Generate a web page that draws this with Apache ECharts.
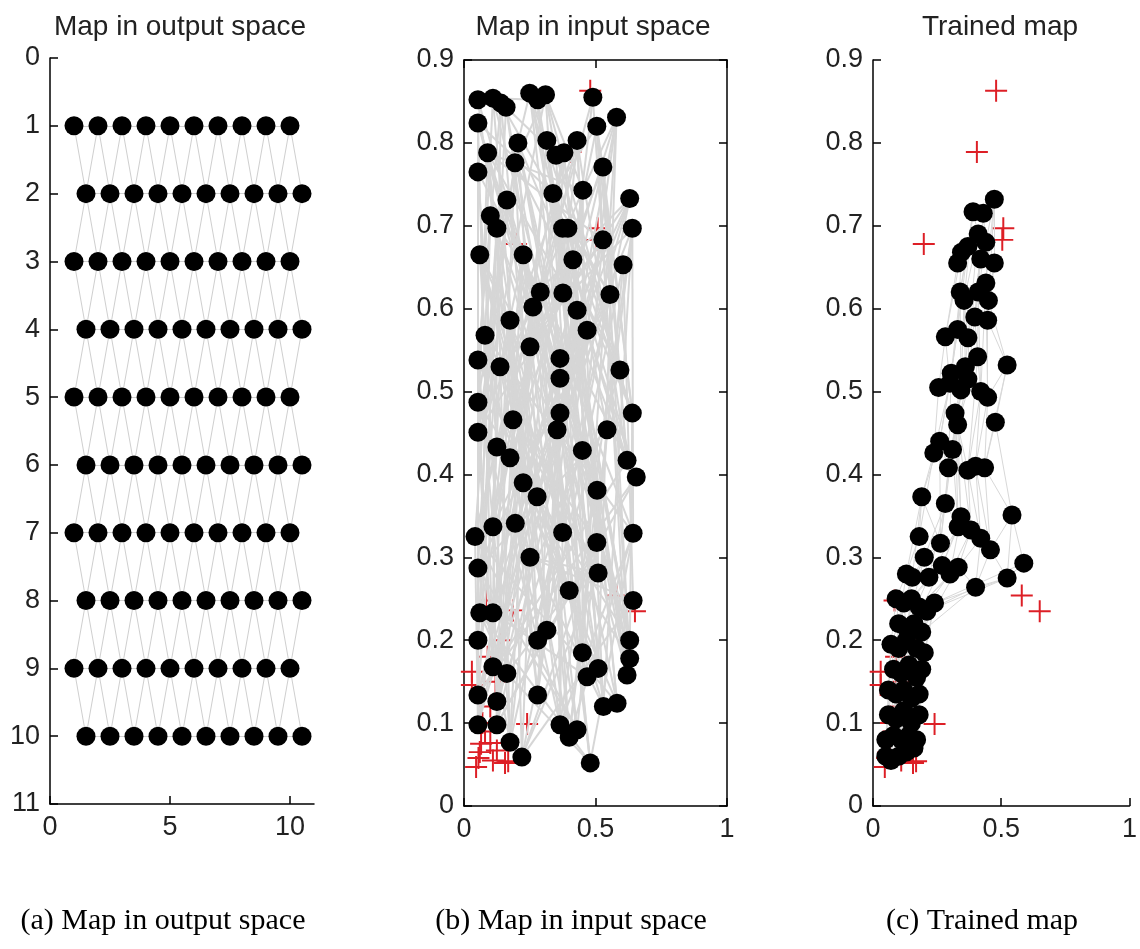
<!DOCTYPE html>
<html>
<head>
<meta charset="utf-8">
<script src="https://cdn.jsdelivr.net/npm/echarts@6/dist/echarts.min.js"></script>
<style>
  html, body { margin: 0; padding: 0; background: #fff; }
  #chart { width: 1140px; height: 949px; }
</style>
</head>
<body>
<div id="chart"></div>
<script>
// ---- Self-organising map, 10 x 10 hexagonal lattice ----

// Lattice rows and the column positions of odd / even (shifted) rows
const outputRows = [1, 2, 3, 4, 5, 6, 7, 8, 9, 10];
const oddRowX = [1, 2, 3, 4, 5, 6, 7, 8, 9, 10];
const evenRowX = [1.5, 2.5, 3.5, 4.5, 5.5, 6.5, 7.5, 8.5, 9.5, 10.5];

// Neuron weights before training (listed in lattice order, row by row)
const inputMapNeurons = [
  [0.053, 0.852], [0.315, 0.212], [0.365, 0.54], [0.28, 0.852], [0.11, 0.854],
  [0.28, 0.2], [0.593, 0.526], [0.35, 0.785], [0.16, 0.843], [0.053, 0.2],
  [0.365, 0.516], [0.205, 0.80], [0.25, 0.86], [0.63, 0.2], [0.053, 0.487],
  [0.194, 0.776], [0.31, 0.858], [0.45, 0.185], [0.365, 0.474], [0.163, 0.731],
  [0.49, 0.855], [0.63, 0.178], [0.64, 0.474], [0.338, 0.739], [0.053, 0.824],
  [0.11, 0.168], [0.053, 0.451], [0.452, 0.743], [0.58, 0.831], [0.51, 0.166],
  [0.125, 0.433], [0.528, 0.771], [0.505, 0.82], [0.62, 0.158], [0.45, 0.429],
  [0.528, 0.683], [0.09, 0.788], [0.28, 0.134], [0.175, 0.42], [0.414, 0.659],
  [0.053, 0.765], [0.053, 0.134], [0.62, 0.417], [0.376, 0.619], [0.315, 0.803],
  [0.125, 0.126], [0.225, 0.39], [0.43, 0.598], [0.38, 0.788], [0.582, 0.124],
  [0.655, 0.397], [0.468, 0.574], [0.43, 0.803], [0.53, 0.12], [0.195, 0.341],
  [0.175, 0.586], [0.63, 0.733], [0.053, 0.098], [0.042, 0.325], [0.262, 0.602],
  [0.375, 0.697], [0.125, 0.098], [0.11, 0.337], [0.137, 0.53], [0.64, 0.697],
  [0.365, 0.098], [0.375, 0.33], [0.251, 0.554], [0.125, 0.697], [0.43, 0.092],
  [0.505, 0.318], [0.186, 0.466], [0.225, 0.665], [0.4, 0.083], [0.643, 0.329],
  [0.354, 0.454], [0.06, 0.665], [0.175, 0.077], [0.053, 0.287], [0.544, 0.454],
  [0.605, 0.653], [0.22, 0.059], [0.51, 0.281], [0.506, 0.381], [0.29, 0.62],
  [0.48, 0.052], [0.4, 0.26], [0.278, 0.373], [0.555, 0.617], [0.395, 0.697],
  [0.643, 0.248], [0.251, 0.30], [0.08, 0.568], [0.1, 0.712], [0.06, 0.233],
  [0.163, 0.16], [0.053, 0.538], [0.14, 0.848], [0.11, 0.233], [0.468, 0.156]
];

// Neuron weights after training (lattice order, row by row)
const trainedMapNeurons = [
  [0.33, 0.655], [0.345, 0.668], [0.37, 0.675], [0.39, 0.717], [0.41, 0.69],
  [0.42, 0.66], [0.43, 0.715], [0.44, 0.68], [0.473, 0.732], [0.473, 0.655],
  [0.282, 0.566], [0.33, 0.575], [0.34, 0.62], [0.355, 0.61], [0.37, 0.565],
  [0.397, 0.59], [0.41, 0.62], [0.44, 0.631], [0.447, 0.586], [0.45, 0.61],
  [0.256, 0.505], [0.3, 0.51], [0.305, 0.522], [0.343, 0.502], [0.36, 0.53],
  [0.37, 0.515], [0.408, 0.542], [0.42, 0.5], [0.447, 0.493], [0.523, 0.532],
  [0.237, 0.426], [0.26, 0.44], [0.294, 0.408], [0.31, 0.43], [0.32, 0.474],
  [0.33, 0.46], [0.37, 0.405], [0.4, 0.41], [0.435, 0.408], [0.477, 0.463],
  [0.18, 0.325], [0.19, 0.373], [0.263, 0.317], [0.282, 0.365], [0.332, 0.337],
  [0.343, 0.349], [0.382, 0.333], [0.42, 0.323], [0.458, 0.309], [0.542, 0.351],
  [0.13, 0.28], [0.153, 0.276], [0.2, 0.3], [0.218, 0.276], [0.27, 0.29],
  [0.3, 0.28], [0.332, 0.288], [0.4, 0.264], [0.523, 0.275], [0.588, 0.293],
  [0.09, 0.25], [0.1, 0.22], [0.12, 0.245], [0.13, 0.215], [0.15, 0.25],
  [0.16, 0.22], [0.18, 0.24], [0.19, 0.21], [0.21, 0.235], [0.24, 0.245],
  [0.07, 0.195], [0.08, 0.165], [0.1, 0.19], [0.11, 0.16], [0.13, 0.2],
  [0.14, 0.17], [0.17, 0.19], [0.17, 0.155], [0.19, 0.165], [0.2, 0.185],
  [0.06, 0.14], [0.06, 0.11], [0.09, 0.135], [0.09, 0.105], [0.12, 0.14],
  [0.12, 0.115], [0.15, 0.13], [0.15, 0.1], [0.18, 0.135], [0.18, 0.11],
  [0.05, 0.08], [0.05, 0.06], [0.07, 0.055], [0.08, 0.085], [0.1, 0.06],
  [0.11, 0.08], [0.13, 0.065], [0.14, 0.085], [0.16, 0.07], [0.17, 0.08]
];

// Training samples
const samplePoints = [
  [0.48, 0.863], [0.405, 0.789], [0.198, 0.678], [0.508, 0.697], [0.504, 0.683],
  [0.58, 0.254], [0.65, 0.235], [0.084, 0.248], [0.24, 0.099], [0.168, 0.054],
  [0.046, 0.047], [0.03, 0.162], [0.03, 0.146], [0.186, 0.236], [0.055, 0.058],
  [0.1, 0.076], [0.125, 0.067], [0.156, 0.052], [0.08, 0.09], [0.1, 0.12],
  [0.12, 0.15], [0.09, 0.18], [0.14, 0.2], [0.07, 0.1], [0.11, 0.055],
  [0.065, 0.075], [0.06, 0.065]
];

// Axis tick settings
const outputTicks = { min: 0, max: 11, xInterval: 5, yInterval: 1 };
const inputTicks = { xMin: 0, xMax: 1, xInterval: 0.5, yMin: 0, yMax: 0.9, yInterval: 0.1 };

// ---- lattice helpers ----
const N_ROWS = outputRows.length, N_COLS = oddRowX.length;

const outputMapNeurons = [];
outputRows.forEach((row, r) => {
  const xs = (r % 2 === 0) ? oddRowX : evenRowX;
  xs.forEach(x => outputMapNeurons.push([x, row]));
});

// neighbour pairs of a hexagonal lattice whose odd (0-based) rows are shifted right
function hexLinks(nRows, nCols) {
  const links = [];
  for (let r = 0; r < nRows; r++) {
    for (let c = 0; c < nCols; c++) {
      const i = r * nCols + c;
      if (c + 1 < nCols) links.push([i, i + 1]);
      if (r + 1 < nRows) {
        const cand = (r % 2 === 1) ? [c, c + 1] : [c - 1, c];
        cand.forEach(cc => {
          if (cc >= 0 && cc < nCols) links.push([i, (r + 1) * nCols + cc]);
        });
      }
    }
  }
  return links;
}
const lattice = hexLinks(N_ROWS, N_COLS);
const edges = pts => lattice.map(([a, b]) => ({ coords: [pts[a], pts[b]] }));

// ---- styling ----
const FONT = 'Liberation Sans';
const axisLabel = { fontFamily: FONT, fontSize: 27, color: '#222', margin: 10 };
const axisLine = { show: true, onZero: false, lineStyle: { color: '#000', width: 1.5 } };
const axisTick = { show: true, inside: true, length: 8, lineStyle: { color: '#000', width: 1.5 } };
const noLabel = { show: false };
const PLUS = 'path://M9.1,0H10.9V9.1H20V10.9H10.9V20H9.1V10.9H0V9.1H9.1Z';
const DOT = 19;

const grids = [
  { left: 50, top: 58, width: 264, height: 746 },
  { left: 464, top: 60, width: 263, height: 746 },
  { left: 873, top: 60, width: 262, height: 746 }
];

const xAxes = [
  { gridIndex: 0, type: 'value', min: outputTicks.min, max: outputTicks.max, interval: outputTicks.xInterval,
    axisLine, axisTick, axisLabel, splitLine: { show: false } },
  { gridIndex: 1, type: 'value', min: inputTicks.xMin, max: inputTicks.xMax, interval: inputTicks.xInterval,
    axisLine, axisTick, axisLabel, splitLine: { show: false } },
  { gridIndex: 1, type: 'value', position: 'top', min: inputTicks.xMin, max: inputTicks.xMax, interval: inputTicks.xInterval,
    axisLine, axisTick, axisLabel: noLabel, splitLine: { show: false } },
  { gridIndex: 2, type: 'value', min: inputTicks.xMin, max: inputTicks.xMax, interval: inputTicks.xInterval,
    axisLine, axisTick, axisLabel, splitLine: { show: false } }
];
const yAxes = [
  { gridIndex: 0, type: 'value', inverse: true, min: outputTicks.min, max: outputTicks.max, interval: outputTicks.yInterval,
    axisLine, axisTick, axisLabel, splitLine: { show: false } },
  { gridIndex: 1, type: 'value', min: inputTicks.yMin, max: inputTicks.yMax, interval: inputTicks.yInterval,
    axisLine, axisTick, axisLabel, splitLine: { show: false } },
  { gridIndex: 1, type: 'value', position: 'right', min: inputTicks.yMin, max: inputTicks.yMax, interval: inputTicks.yInterval,
    axisLine, axisTick, axisLabel: noLabel, splitLine: { show: false } },
  { gridIndex: 2, type: 'value', min: inputTicks.yMin, max: inputTicks.yMax, interval: inputTicks.yInterval,
    axisLine, axisTick, axisLabel, splitLine: { show: false } }
];

function latticeLines(pts, xi, yi, color, width) {
  return {
    type: 'lines', coordinateSystem: 'cartesian2d', xAxisIndex: xi, yAxisIndex: yi,
    data: edges(pts), silent: true, z: 2, animation: false,
    lineStyle: { color, width, opacity: 1, curveness: 0 }
  };
}
function neurons(pts, xi, yi) {
  return {
    type: 'scatter', xAxisIndex: xi, yAxisIndex: yi, data: pts, symbol: 'circle', symbolSize: DOT,
    itemStyle: { color: '#000', opacity: 1 }, z: 3, animation: false, silent: true
  };
}
function samples(xi, yi) {
  return {
    type: 'scatter', xAxisIndex: xi, yAxisIndex: yi, data: samplePoints, symbol: PLUS, symbolSize: 22,
    itemStyle: { color: '#dd1f26', opacity: 1 }, z: 1, animation: false, silent: true
  };
}

const series = [
  latticeLines(outputMapNeurons, 0, 0, '#cfcfcf', 1),
  neurons(outputMapNeurons, 0, 0),
  samples(1, 1),
  latticeLines(inputMapNeurons, 1, 1, '#d6d6d6', 2),
  neurons(inputMapNeurons, 1, 1),
  samples(3, 3),
  latticeLines(trainedMapNeurons, 3, 3, '#d8d8d8', 1),
  neurons(trainedMapNeurons, 3, 3)
];

const titleStyle = (x, text) => ({
  type: 'text', x, y: 27,
  style: { text, fontFamily: FONT, fontSize: 28, fill: '#222', textAlign: 'center', textVerticalAlign: 'middle' }
});
const captionStyle = (x, text) => ({
  type: 'text', x, y: 921,
  style: { text, fontFamily: 'Liberation Serif', fontSize: 30, fill: '#000', textAlign: 'center', textVerticalAlign: 'middle' }
});

const chart = echarts.init(document.getElementById('chart'), null, { renderer: 'canvas' });
chart.setOption({
  backgroundColor: '#fff',
  animation: false,
  grid: grids,
  xAxis: xAxes,
  yAxis: yAxes,
  series,
  graphic: [
    titleStyle(180, 'Map in output space'),
    titleStyle(593, 'Map in input space'),
    titleStyle(1000, 'Trained map'),
    captionStyle(163, '(a) Map in output space'),
    captionStyle(571, '(b) Map in input space'),
    captionStyle(982, '(c) Trained map')
  ]
});
</script>
</body>
</html>
